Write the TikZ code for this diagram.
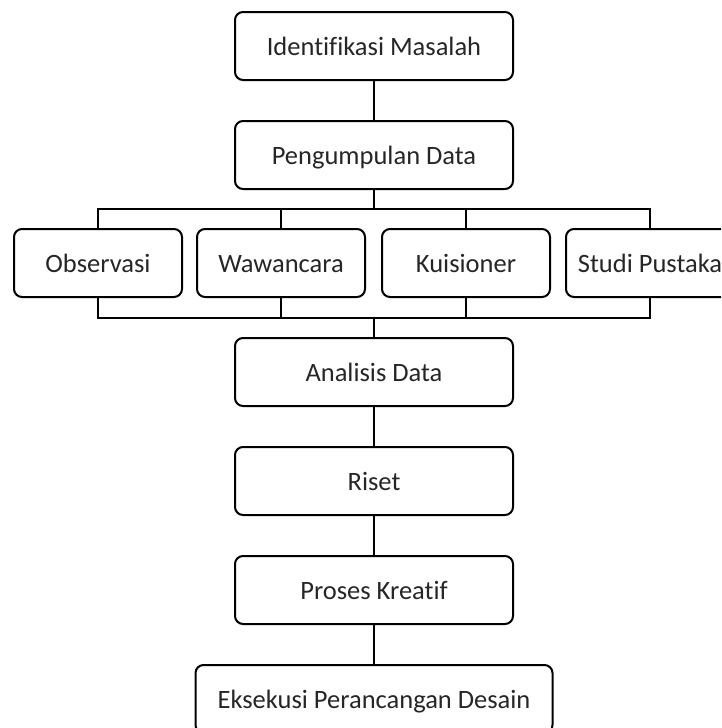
\documentclass[tikz,border=0pt]{standalone}
\usepackage{fontspec}
\setmainfont[Ligatures=NoCommon]{Carlito}
\usetikzlibrary{positioning}
\tikzset{
  stepbox/.style={draw, rounded corners=8pt, line width=2pt, text=black!85,
    minimum width=278pt, minimum height=68pt, inner sep=0pt,
    text height=24pt, text depth=6pt,
    font=\fontsize{26.5}{30}\selectfont},
  methodbox/.style={stepbox, minimum width=168pt},
  link/.style={line width=2pt}
}
\begin{document}
\begin{tikzpicture}[x=1pt,y=-1pt]
    \useasboundingbox (0,0) rectangle (721,728);
    \clip (0,0) rectangle (721,728);
    % main steps
    \node[stepbox] (identifikasi) at (374,46) {Identifikasi Masalah};
    \node[stepbox] (pengumpulan) at (374,155) {Pengumpulan Data};
    \node[methodbox] (observasi) at (98,263) {Observasi};
    \node[methodbox] (wawancara) at (281,263) {Wawancara};
    \node[methodbox] (kuisioner) at (466,263) {Kuisioner};
    \node[methodbox] (pustaka) at (650,263) {Studi Pustaka};
    \node[stepbox] (analisis) at (374,372) {Analisis Data};
    \node[stepbox] (riset) at (374,481) {Riset};
    \node[stepbox] (proses) at (374,590) {Proses Kreatif};
    \node[stepbox, minimum width=357pt] (eksekusi) at (374,699) {Eksekusi Perancangan Desain};
    \coordinate (topbar) at (374,209);
    \coordinate (lowbar) at (374,318);
    % connectors
    \draw[link] (identifikasi) -- (pengumpulan);
    \draw[link] (pengumpulan) -- (topbar);
    \draw[link] (observasi.north) -- (observasi.north |- topbar) -- (pustaka.north |- topbar) -- (pustaka.north);
    \draw[link] (wawancara.north) -- (wawancara.north |- topbar);
    \draw[link] (kuisioner.north) -- (kuisioner.north |- topbar);
    \draw[link] (observasi.south) -- (observasi.south |- lowbar) -- (pustaka.south |- lowbar) -- (pustaka.south);
    \draw[link] (wawancara.south) -- (wawancara.south |- lowbar);
    \draw[link] (kuisioner.south) -- (kuisioner.south |- lowbar);
    \draw[link] (lowbar) -- (analisis);
    \draw[link] (analisis) -- (riset);
    \draw[link] (riset) -- (proses);
    \draw[link] (proses) -- (eksekusi);
\end{tikzpicture}
\end{document}
